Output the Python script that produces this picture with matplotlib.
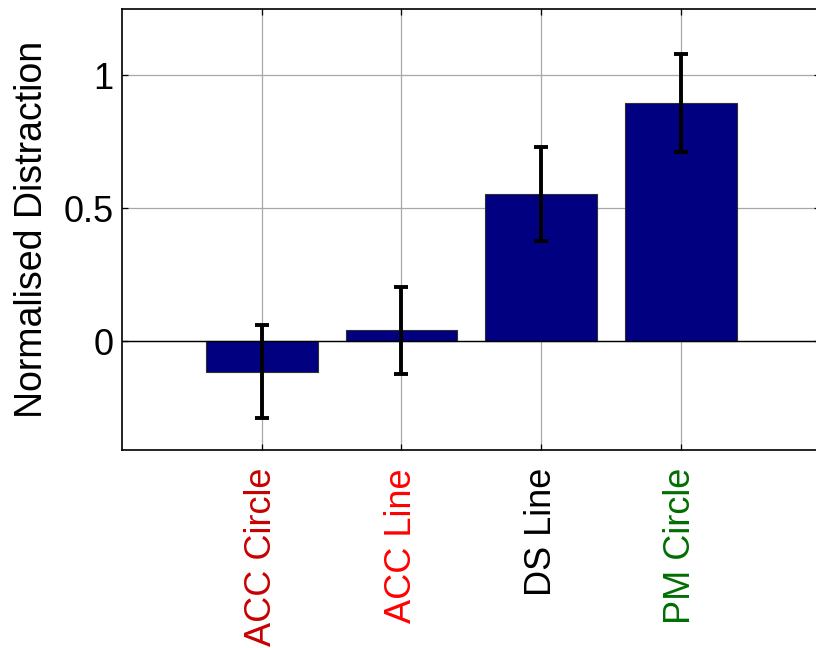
import matplotlib
matplotlib.use("Agg")
import matplotlib.pyplot as plt
import numpy as np

plt.rcParams['font.family'] = ['Liberation Sans', 'DejaVu Sans']

conditions = ["ACC Circle", "ACC Line", "DS Line", "PM Circle"]
label_colors = ["#C80000", "#FF0000", "#000000", "#006E00"]
means = [-0.115, 0.040, 0.553, 0.895]
errors = [0.175, 0.163, 0.178, 0.185]

fig = plt.figure(figsize=(8.16, 6.48), dpi=100)
ax = fig.add_axes([122/816, 1 - 450/648, 698.5/816, 441/648])

x = np.arange(1, len(conditions) + 1)
ax.bar(x, means, width=0.8, color="#000080", edgecolor="#303030",
       linewidth=0.8, zorder=2)
ax.errorbar(x, means, yerr=errors, fmt="none", ecolor="black",
            elinewidth=2.8, capsize=5, capthick=2.8, zorder=3)
ax.axhline(0, color="black", linewidth=1.0, zorder=2.5)

ax.set_xlim(0, 5)
ax.set_ylim(-0.41, 1.25)

ax.grid(True, color="#a8a8a8", linewidth=0.9, zorder=0)
ax.set_axisbelow(True)
ax.tick_params(direction="in", length=4, width=0.9, top=True, right=True,
               colors="black")
ax.tick_params(axis="y", pad=6)
ax.tick_params(axis="x", pad=13)

ax.set_xticks(x)
ax.set_xticklabels(conditions, rotation=90, fontsize=26)
for lbl, c in zip(ax.get_xticklabels(), label_colors):
    lbl.set_color(c)
ax.set_yticks([0, 0.5, 1])
ax.set_yticklabels(["0", "0.5", "1"], fontsize=26)
ax.set_ylabel("Normalised Distraction", fontsize=27, labelpad=10)

for side in ["left", "bottom", "top", "right"]:
    ax.spines[side].set_linewidth(1.2)

fig.savefig("out.png", dpi=100)
